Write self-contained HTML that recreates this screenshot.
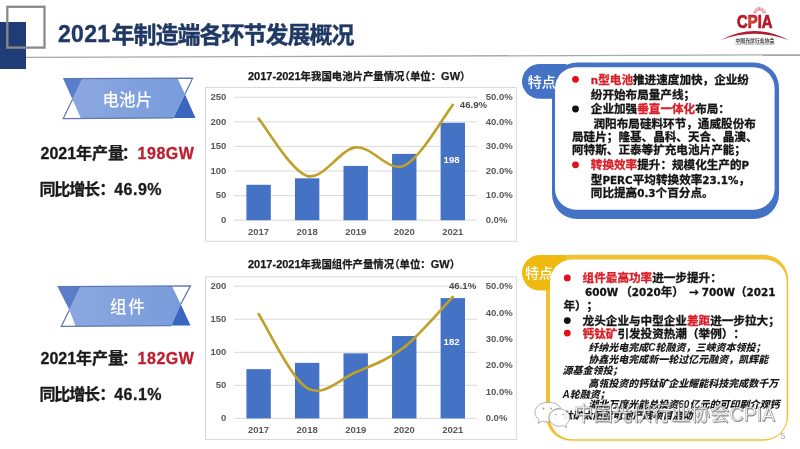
<!DOCTYPE html>
<html lang="zh-CN"><head><meta charset="utf-8"><title>2021年制造端各环节发展概况</title>
<style>
html,body{margin:0;padding:0;background:#fff;width:800px;height:449px;overflow:hidden}
svg{display:block}
text{font-family:"Liberation Sans", "Noto Sans CJK SC", sans-serif;text-spacing-trim:space-all}
</style></head><body>
<svg width="800" height="449" viewBox="0 0 800 449">
<defs>
<linearGradient id="bg" x1="0" y1="0" x2="1" y2="0">
<stop offset="0" stop-color="#8ba7df"/><stop offset="1" stop-color="#789cdb"/>
</linearGradient>
<radialGradient id="lg" cx="0.38" cy="0.45" r="0.35">
<stop offset="0" stop-color="#e2662a"/><stop offset="1" stop-color="#b5152b"/>
</radialGradient>
</defs>
<rect width="800" height="449" fill="#fff"/>
<rect x="0" y="22" width="26" height="47" fill="#203c74"/>
<rect x="7.3" y="6.8" width="37.2" height="40.8" fill="none" stroke="#8a8a8a" stroke-width="2.3"/>
<line x1="26" y1="57.4" x2="800" y2="54.8" stroke="#a8a8a8" stroke-width="1.3"/>
<text x="58" y="42.3" font-size="23" font-weight="bold" fill="#1f3864" stroke="#1f3864" stroke-width="0.35" letter-spacing="0.3">2021</text>
<text x="111.4" y="42.6" font-size="23" font-weight="bold" fill="#1f3864" stroke="#1f3864" stroke-width="0.4" letter-spacing="-1.0">年制造端各环节发展概况</text>
<g>
<line x1="756.55" y1="12.98" x2="753.10" y2="12.37" stroke="#e07a8a" stroke-width="0.9"/>
<line x1="756.80" y1="12.18" x2="753.66" y2="10.65" stroke="#e07a8a" stroke-width="0.9"/>
<line x1="757.27" y1="11.49" x2="754.67" y2="9.15" stroke="#e07a8a" stroke-width="0.9"/>
<line x1="757.91" y1="10.96" x2="756.06" y2="7.99" stroke="#e07a8a" stroke-width="0.9"/>
<line x1="758.67" y1="10.62" x2="757.71" y2="7.25" stroke="#e07a8a" stroke-width="0.9"/>
<line x1="759.50" y1="10.50" x2="759.50" y2="7.00" stroke="#e07a8a" stroke-width="0.9"/>
<line x1="760.33" y1="10.62" x2="761.29" y2="7.25" stroke="#e07a8a" stroke-width="0.9"/>
<line x1="761.09" y1="10.96" x2="762.94" y2="7.99" stroke="#e07a8a" stroke-width="0.9"/>
<line x1="761.73" y1="11.49" x2="764.33" y2="9.15" stroke="#e07a8a" stroke-width="0.9"/>
<line x1="762.20" y1="12.18" x2="765.34" y2="10.65" stroke="#e07a8a" stroke-width="0.9"/>
<line x1="762.45" y1="12.98" x2="765.90" y2="12.37" stroke="#e07a8a" stroke-width="0.9"/>
<text x="737" y="27.8" style="font-family:'Liberation Sans',sans-serif" font-size="18" font-weight="bold" fill="url(#lg)" stroke="#b0142c" stroke-width="0.7" textLength="35.5" lengthAdjust="spacingAndGlyphs">CPIA</text>
<path d="M720.5,40.2 Q755,22 789,40.2 Q755,27.5 720.5,40.2 Z" fill="#b01c30"/>
<text x="755" y="41.8" font-size="4.6" font-weight="bold" fill="#333" text-anchor="middle" textLength="39" lengthAdjust="spacingAndGlyphs">中国光伏行业协会</text>
<text x="755" y="44.6" font-size="2.6" fill="#666" text-anchor="middle" textLength="39" lengthAdjust="spacingAndGlyphs">China Photovoltaic Industry Association</text>
</g>
<polygon points="82.3,78.7 177.6,78.2 184.9,94.2 173.5,117.9 81,118.6 72.5,99.4" fill="url(#bg)"/>
<polygon points="63.2,78.7 82.3,78.7 72.5,99.4" fill="#5a7ec9"/>
<polygon points="184.9,94.2 195.5,117.9 173.5,117.9" fill="#3966bf"/>
<polyline points="63.2,78.7 192.6,78.2 184.9,94.2" fill="none" stroke="#5f78b2" stroke-width="1.25"/>
<polyline points="72.5,99.4 63.2,118.6 173.5,117.9" fill="none" stroke="#5f78b2" stroke-width="1.25"/>
<text x="127.4" y="105.9" font-size="16.6" font-weight="500" fill="#ffffff" text-anchor="middle">电池片</text>
<polygon points="80.4,286.7 172,285.9 180.7,304.3 171.4,325.6 75.7,326.4 69.4,310" fill="url(#bg)"/>
<polygon points="57.6,286.7 80.4,286.7 69.4,310" fill="#5a7ec9"/>
<polygon points="180.7,304.3 190.5,325.6 171.4,325.6" fill="#3966bf"/>
<polyline points="57.6,286.7 190.5,285.9 180.7,304.3" fill="none" stroke="#5f78b2" stroke-width="1.25"/>
<polyline points="69.4,310 61.3,326.4 171.4,325.6" fill="none" stroke="#5f78b2" stroke-width="1.25"/>
<text x="128.2" y="313.0" font-size="16.6" font-weight="500" fill="#ffffff" text-anchor="middle" letter-spacing="1.6">组件</text>
<text y="159" font-size="16" font-weight="bold" fill="#1a1a1a" stroke="#1a1a1a" stroke-width="0.3"><tspan x="40.5">2021年产量</tspan><tspan x="121.8">：</tspan><tspan x="137.6" fill="#be1d2d" stroke="#be1d2d" letter-spacing="0.5">198GW</tspan></text>
<text y="195.2" font-size="16" font-weight="bold" fill="#1a1a1a" stroke="#1a1a1a" stroke-width="0.3"><tspan x="39.4" letter-spacing="-1.1">同比增长</tspan><tspan x="99.2">：</tspan><tspan x="114.2" letter-spacing="0.5">46.9%</tspan></text>
<text y="363.6" font-size="16" font-weight="bold" fill="#1a1a1a" stroke="#1a1a1a" stroke-width="0.3"><tspan x="40.5">2021年产量</tspan><tspan x="121.8">：</tspan><tspan x="137.6" fill="#be1d2d" stroke="#be1d2d" letter-spacing="0.5">182GW</tspan></text>
<text y="400.2" font-size="16" font-weight="bold" fill="#1a1a1a" stroke="#1a1a1a" stroke-width="0.3"><tspan x="39.4" letter-spacing="-1.1">同比增长</tspan><tspan x="99.2">：</tspan><tspan x="114.2" letter-spacing="0.5">46.1%</tspan></text>
<rect x="205.5" y="87.5" width="310.8" height="153.8" fill="#fff" stroke="#d9d9d9" stroke-width="1"/>
<text x="248" y="80.2" font-size="10.4" font-weight="bold" fill="#1a1a1a" stroke="#1a1a1a" stroke-width="0.25"><tspan font-size="11">2017-2021</tspan>年我国电池片产量情况<tspan dx="-5">（</tspan>单位：<tspan font-size="11">GW</tspan>）</text>
<line x1="234" y1="220.20" x2="477" y2="220.20" stroke="#d9d9d9" stroke-width="1"/>
<text x="226.3" y="222.90" font-size="9.5" font-weight="bold" fill="#595959" text-anchor="end">0</text>
<line x1="234" y1="195.60" x2="477" y2="195.60" stroke="#d9d9d9" stroke-width="1"/>
<text x="226.3" y="198.30" font-size="9.5" font-weight="bold" fill="#595959" text-anchor="end">50</text>
<line x1="234" y1="171.00" x2="477" y2="171.00" stroke="#d9d9d9" stroke-width="1"/>
<text x="226.3" y="173.70" font-size="9.5" font-weight="bold" fill="#595959" text-anchor="end">100</text>
<line x1="234" y1="146.40" x2="477" y2="146.40" stroke="#d9d9d9" stroke-width="1"/>
<text x="226.3" y="149.10" font-size="9.5" font-weight="bold" fill="#595959" text-anchor="end">150</text>
<line x1="234" y1="121.80" x2="477" y2="121.80" stroke="#d9d9d9" stroke-width="1"/>
<text x="226.3" y="124.50" font-size="9.5" font-weight="bold" fill="#595959" text-anchor="end">200</text>
<line x1="234" y1="97.20" x2="477" y2="97.20" stroke="#d9d9d9" stroke-width="1"/>
<text x="226.3" y="99.90" font-size="9.5" font-weight="bold" fill="#595959" text-anchor="end">250</text>
<text x="485.7" y="222.90" font-size="9.5" font-weight="bold" fill="#595959">0.0%</text>
<text x="485.7" y="198.30" font-size="9.5" font-weight="bold" fill="#595959">10.0%</text>
<text x="485.7" y="173.70" font-size="9.5" font-weight="bold" fill="#595959">20.0%</text>
<text x="485.7" y="149.10" font-size="9.5" font-weight="bold" fill="#595959">30.0%</text>
<text x="485.7" y="124.50" font-size="9.5" font-weight="bold" fill="#595959">40.0%</text>
<text x="485.7" y="99.90" font-size="9.5" font-weight="bold" fill="#595959">50.0%</text>
<rect x="246.40" y="184.78" width="24.4" height="35.42" fill="#4472c4"/>
<text x="258.60" y="234.70" font-size="9.5" font-weight="bold" fill="#595959" text-anchor="middle">2017</text>
<rect x="294.95" y="178.33" width="24.4" height="41.87" fill="#4472c4"/>
<text x="307.15" y="234.70" font-size="9.5" font-weight="bold" fill="#595959" text-anchor="middle">2018</text>
<rect x="343.50" y="165.93" width="24.4" height="54.27" fill="#4472c4"/>
<text x="355.70" y="234.70" font-size="9.5" font-weight="bold" fill="#595959" text-anchor="middle">2019</text>
<rect x="392.05" y="153.88" width="24.4" height="66.32" fill="#4472c4"/>
<text x="404.25" y="234.70" font-size="9.5" font-weight="bold" fill="#595959" text-anchor="middle">2020</text>
<rect x="440.60" y="122.78" width="24.4" height="97.42" fill="#4472c4"/>
<text x="452.80" y="234.70" font-size="9.5" font-weight="bold" fill="#595959" text-anchor="middle">2021</text>
<path d="M258.60,118.60 C266.69,128.16 290.97,171.12 307.15,175.92 C323.33,180.72 339.52,149.11 355.70,147.38 C371.88,145.66 388.07,172.68 404.25,165.59 C420.43,158.50 444.71,114.95 452.80,104.83" fill="none" stroke="#bea126" stroke-width="2.6" stroke-linecap="round"/>
<text x="451.60" y="162.60" font-size="9.6" font-weight="bold" fill="#fff" text-anchor="middle">198</text>
<text x="459.8" y="108.3" font-size="9.6" font-weight="bold" fill="#4a4a4a">46.9%</text>
<rect x="205.5" y="276.8" width="310.8" height="162.7" fill="#fff" stroke="#d9d9d9" stroke-width="1"/>
<text x="248" y="268.2" font-size="10.4" font-weight="bold" fill="#1a1a1a" stroke="#1a1a1a" stroke-width="0.25"><tspan font-size="11">2017-2021</tspan>年我国组件产量情况<tspan dx="-5">（</tspan>单位：<tspan font-size="11">GW</tspan>）</text>
<line x1="234" y1="418.40" x2="477" y2="418.40" stroke="#d9d9d9" stroke-width="1"/>
<text x="226.3" y="421.10" font-size="9.5" font-weight="bold" fill="#595959" text-anchor="end">0</text>
<line x1="234" y1="385.35" x2="477" y2="385.35" stroke="#d9d9d9" stroke-width="1"/>
<text x="226.3" y="388.05" font-size="9.5" font-weight="bold" fill="#595959" text-anchor="end">50</text>
<line x1="234" y1="352.30" x2="477" y2="352.30" stroke="#d9d9d9" stroke-width="1"/>
<text x="226.3" y="355.00" font-size="9.5" font-weight="bold" fill="#595959" text-anchor="end">100</text>
<line x1="234" y1="319.25" x2="477" y2="319.25" stroke="#d9d9d9" stroke-width="1"/>
<text x="226.3" y="321.95" font-size="9.5" font-weight="bold" fill="#595959" text-anchor="end">150</text>
<line x1="234" y1="286.20" x2="477" y2="286.20" stroke="#d9d9d9" stroke-width="1"/>
<text x="226.3" y="288.90" font-size="9.5" font-weight="bold" fill="#595959" text-anchor="end">200</text>
<text x="485.7" y="421.10" font-size="9.5" font-weight="bold" fill="#595959">0.0%</text>
<text x="485.7" y="394.74" font-size="9.5" font-weight="bold" fill="#595959">10.0%</text>
<text x="485.7" y="368.38" font-size="9.5" font-weight="bold" fill="#595959">20.0%</text>
<text x="485.7" y="342.02" font-size="9.5" font-weight="bold" fill="#595959">30.0%</text>
<text x="485.7" y="315.66" font-size="9.5" font-weight="bold" fill="#595959">40.0%</text>
<text x="485.7" y="289.30" font-size="9.5" font-weight="bold" fill="#595959">50.0%</text>
<rect x="246.40" y="369.16" width="24.4" height="49.24" fill="#4472c4"/>
<text x="258.60" y="433.00" font-size="9.5" font-weight="bold" fill="#595959" text-anchor="middle">2017</text>
<rect x="294.95" y="362.88" width="24.4" height="55.52" fill="#4472c4"/>
<text x="307.15" y="433.00" font-size="9.5" font-weight="bold" fill="#595959" text-anchor="middle">2018</text>
<rect x="343.50" y="353.36" width="24.4" height="65.04" fill="#4472c4"/>
<text x="355.70" y="433.00" font-size="9.5" font-weight="bold" fill="#595959" text-anchor="middle">2019</text>
<rect x="392.05" y="336.04" width="24.4" height="82.36" fill="#4472c4"/>
<text x="404.25" y="433.00" font-size="9.5" font-weight="bold" fill="#595959" text-anchor="middle">2020</text>
<rect x="440.60" y="298.10" width="24.4" height="120.30" fill="#4472c4"/>
<text x="452.80" y="433.00" font-size="9.5" font-weight="bold" fill="#595959" text-anchor="middle">2021</text>
<path d="M258.60,314.01 C266.69,326.36 290.97,378.38 307.15,388.09 C323.33,397.80 339.52,379.08 355.70,372.27 C371.88,365.46 388.07,359.79 404.25,347.23 C420.43,334.66 444.71,305.27 452.80,296.88" fill="none" stroke="#bea126" stroke-width="2.6" stroke-linecap="round"/>
<text x="451.60" y="344.50" font-size="9.6" font-weight="bold" fill="#fff" text-anchor="middle">182</text>
<text x="449" y="289.2" font-size="9.6" font-weight="bold" fill="#4a4a4a">46.1%</text>
<rect x="552" y="62.5" width="227" height="156.5" rx="25" fill="#4472c4"/>
<path d="M566.5,64 L540,64 A18,17.4 0 0 0 540,98.8 L566.5,98.8 Z" fill="#4472c4"/>
<text x="527.7" y="87" font-size="14" font-weight="500" fill="#fff">特点</text>
<rect x="555" y="67.2" width="219.6" height="142.5" rx="21" fill="#fff"/>
<circle cx="575.5" cy="79.30" r="3.4" fill="#e0101a"/>
<text x="590.8" y="83.70" font-size="11.6" font-weight="bold" fill="#141414" stroke="#141414" stroke-width="0.3" ><tspan fill="#d81f27" stroke="#d81f27"><tspan font-family="DejaVu Sans, sans-serif" font-size="10.4">n</tspan>型电池</tspan>推进速度加快，企业纷</text>
<text x="590.8" y="98.80" font-size="11.6" font-weight="bold" fill="#141414" stroke="#141414" stroke-width="0.3" >纷开始布局量产线；</text>
<circle cx="575.5" cy="109.00" r="3.4" fill="#111"/>
<text x="590.8" y="113.40" font-size="11.6" font-weight="bold" fill="#141414" stroke="#141414" stroke-width="0.3" >企业加强<tspan fill="#d81f27" stroke="#d81f27">垂直一体化</tspan>布局：</text>
<text x="593.5" y="127.70" font-size="11.6" font-weight="bold" fill="#141414" stroke="#141414" stroke-width="0.3" >润阳布局硅料环节，通威股份布</text>
<text x="572" y="140.90" font-size="11.6" font-weight="bold" fill="#141414" stroke="#141414" stroke-width="0.3" >局硅片；隆基、晶科、天合、晶澳、</text>
<text x="572" y="154.30" font-size="11.6" font-weight="bold" fill="#141414" stroke="#141414" stroke-width="0.3" >阿特斯、正泰等扩充电池片产能；</text>
<circle cx="575.5" cy="164.80" r="3.4" fill="#e0101a"/>
<text x="590.8" y="169.20" font-size="11.6" font-weight="bold" fill="#141414" stroke="#141414" stroke-width="0.3" ><tspan fill="#d81f27" stroke="#d81f27">转换效率</tspan>提升：规模化生产的<tspan font-family="DejaVu Sans, sans-serif" font-size="10.4">P</tspan></text>
<text x="590.8" y="183.50" font-size="11.6" font-weight="bold" fill="#141414" stroke="#141414" stroke-width="0.3" >型<tspan font-family="DejaVu Sans, sans-serif" font-size="10.4">PERC</tspan>平均转换效率<tspan font-family="DejaVu Sans, sans-serif" font-size="10.4">23.1%</tspan>，</text>
<text x="590.8" y="197.30" font-size="11.6" font-weight="bold" fill="#141414" stroke="#141414" stroke-width="0.3" >同比提高<tspan font-family="DejaVu Sans, sans-serif" font-size="10.4">0.3</tspan>个百分点。</text>
<rect x="546" y="254.7" width="242.2" height="186" rx="25" fill="#f2c131"/>
<path d="M566,255 L540,255 A18,17.8 0 0 0 540,290.6 L566,290.6 Z" fill="#f0b90f"/>
<text x="525" y="278.3" font-size="14" font-weight="500" fill="#fff">特点</text>
<rect x="550" y="259.6" width="236.7" height="179.6" rx="22" fill="#fff"/>
<circle cx="567.3" cy="277.90" r="3.4" fill="#e0101a"/>
<text x="582.6" y="282.30" font-size="11.6" font-weight="bold" fill="#141414" stroke="#141414" stroke-width="0.3" ><tspan fill="#d81f27" stroke="#d81f27">组件最高功率</tspan>进一步提升：</text>
<text x="585" y="295.90" font-size="11.6" font-weight="bold" fill="#141414" stroke="#141414" stroke-width="0.3" ><tspan font-family="DejaVu Sans, sans-serif" font-size="10.4">600W</tspan><tspan dx="2">（</tspan><tspan font-family="DejaVu Sans, sans-serif" font-size="10.4">2020</tspan>年）<tspan dx="5" font-family="DejaVu Sans, sans-serif">→</tspan> <tspan font-family="DejaVu Sans, sans-serif" font-size="10.4">700W</tspan>（<tspan font-family="DejaVu Sans, sans-serif" font-size="10.4">2021</tspan></text>
<text x="563.4" y="309.90" font-size="11.6" font-weight="bold" fill="#141414" stroke="#141414" stroke-width="0.3" >年）；</text>
<circle cx="567.3" cy="320.60" r="3.4" fill="#111"/>
<text x="582.6" y="325.00" font-size="11.6" font-weight="bold" fill="#141414" stroke="#141414" stroke-width="0.3" >龙头企业与中型企业<tspan fill="#d81f27" stroke="#d81f27">差距</tspan>进一步拉大；</text>
<circle cx="567.3" cy="333.10" r="3.4" fill="#e0101a"/>
<text x="582.6" y="337.50" font-size="11.6" font-weight="bold" fill="#141414" stroke="#141414" stroke-width="0.3" ><tspan fill="#d81f27" stroke="#d81f27">钙钛矿</tspan>引发投资热潮（举例）：</text>
<text x="588.3" y="351.10" font-size="10" font-weight="900" font-style="italic" fill="#1a1a1a">纤纳光电完成C轮融资，三峡资本领投；</text>
<text x="588.3" y="362.50" font-size="10" font-weight="900" font-style="italic" fill="#1a1a1a">协鑫光电完成新一轮过亿元融资，凯辉能</text>
<text x="562.5" y="373.90" font-size="10" font-weight="900" font-style="italic" fill="#1a1a1a">源基金领投；</text>
<text x="588.3" y="387.10" font-size="10" font-weight="900" font-style="italic" fill="#1a1a1a">高瓴投资的钙钛矿企业耀能科技完成数千万</text>
<text x="562.5" y="398.10" font-size="10" font-weight="900" font-style="italic" fill="#1a1a1a">A轮融资；</text>
<text x="588.3" y="408.20" font-size="10" font-weight="900" font-style="italic" fill="#1a1a1a">湖北万度光能总投资60亿元的可印刷介观钙</text>
<text x="562.5" y="419.00" font-size="10" font-weight="900" font-style="italic" fill="#1a1a1a">钛矿太阳能电池产线项目启动</text>
<g>
<text x="574.8" y="422.1" font-size="20.5" fill="#3a3a3a" fill-opacity="0.55" textLength="201" lengthAdjust="spacingAndGlyphs">中国光伏行业协会CPIA</text>
<text x="574" y="421.3" font-size="20.5" fill="#ffffff" fill-opacity="0.88" stroke="#6a6a6a" stroke-width="0.4" stroke-opacity="0.8" textLength="201" lengthAdjust="spacingAndGlyphs">中国光伏行业协会CPIA</text>
<path d="M547.5,402.5 c-7,0 -12.5,4.6 -12.5,10 c0,3.1 1.7,5.6 4.3,7.3 l-1.1,3.6 l4.3,-2.2 c1.6,0.5 3.3,0.7 5,0.7 c1.2,0 1.5,0 2.5,-0.2 c-0.6,-1.4 -0.9,-2.8 -0.9,-4.2 c0,-5 4.8,-9.2 11,-9.2 c0.3,0 0.4,0 0.6,0 c-1.2,-3.4 -6,-6 -13.2,-6 z" fill="#fff" fill-opacity="0.92" stroke="#8f8f8f" stroke-width="0.7"/>
<path d="M559.5,409 c-5.9,0 -10.5,3.9 -10.5,8.6 c0,4.7 4.6,8.6 10.5,8.6 c1.3,0 2.6,-0.2 3.8,-0.5 l3.4,1.8 l-0.9,-3 c2.3,-1.6 4,-4.1 4,-6.9 c0,-4.7 -4.6,-8.6 -10.3,-8.6 z" fill="#fff" fill-opacity="0.92" stroke="#8f8f8f" stroke-width="0.7"/>
<circle cx="543.5" cy="408.5" r="0.9" fill="#9a9a9a"/><circle cx="551" cy="408.5" r="0.9" fill="#9a9a9a"/>
<circle cx="556" cy="414.5" r="0.8" fill="#9a9a9a"/><circle cx="563" cy="414.5" r="0.8" fill="#9a9a9a"/>
</g>
<text x="780.4" y="438.6" font-size="9" fill="#a7aec6">5</text>
</svg>
</body></html>
